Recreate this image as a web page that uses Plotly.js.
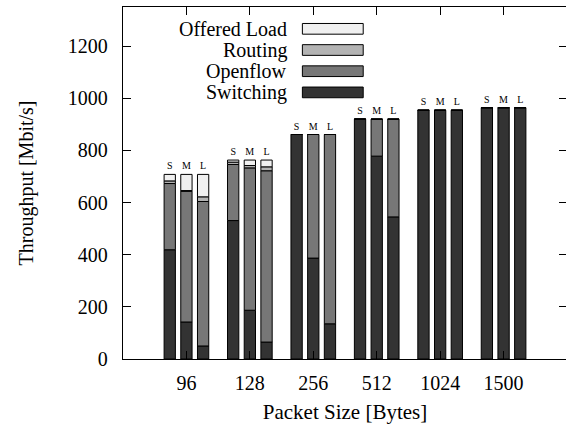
<!DOCTYPE html>
<html>
<head>
<meta charset="utf-8">
<script src="https://cdn.plot.ly/plotly-3.0.1.min.js"></script>
<style>
  html, body { margin: 0; padding: 0; overflow: hidden; background: #fff; }
  #chart { width: 572px; height: 428px; }
</style>
</head>
<body>
<div id="chart"></div>
<script>
// ---- data ----
const categories = ['96', '128', '256', '512', '1024', '1500'];
const sizes = ['S', 'M', 'L'];
const seriesNames = ['Switching', 'Openflow', 'Routing', 'Offered Load'];
const yTicks = [0, 200, 400, 600, 800, 1000, 1200];

// rows: S, M, L ; columns follow categories
const switching = [
  [419, 531, 861, 920, 954, 964],
  [142, 187, 387, 778, 954, 964],
  [50, 65, 135, 545, 954, 964]
];
const openflow = [
  [254, 215, 0, 0, 0, 0],
  [501, 546, 474, 142, 0, 0],
  [554, 657, 726, 375, 0, 0]
];
const routing = [
  [10, 9, 0, 0, 0, 0],
  [3, 9, 0, 0, 0, 0],
  [18, 15, 0, 0, 0, 0]
];
const offeredLoad = [
  [25, 8, 0, 0, 0, 0],
  [62, 21, 0, 0, 0, 0],
  [86, 26, 0, 0, 0, 0]
];

// ---- styles ----
const FONT = 'Liberation Serif';
const colors = ['#333333', '#777777', '#b3b3b3', '#f0f0f0'];
const barWidth = 0.178;
const groupStep = 0.263;

const segments = [switching, openflow, routing, offeredLoad];
const traces = [];

sizes.forEach((s, si) => {
  const center = (si - 1) * groupStep;
  const totals = categories.map((c, ci) => segments.reduce((a, seg) => a + seg[si][ci], 0));
  // label trace (invisible bar carrying S/M/L above the stack)
  traces.push({
    type: 'bar', x: categories, y: totals, base: 0,
    width: barWidth, offset: center - barWidth / 2,
    marker: { color: 'rgba(0,0,0,0)', line: { width: 0 } },
    text: categories.map(() => s), textposition: 'outside',
    textfont: { family: FONT, size: 10, color: '#000' },
    cliponaxis: false, hoverinfo: 'skip', showlegend: false
  });
  const cum = categories.map(() => 0);
  segments.forEach((seg, k) => {
    const vals = seg[si];
    traces.push({
      type: 'bar', name: seriesNames[k], x: categories, y: vals,
      base: cum.slice(),
      width: barWidth, offset: center - barWidth / 2,
      marker: { color: colors[k], line: { color: '#000', width: 1 } },
      hoverinfo: 'skip', showlegend: false
    });
    vals.forEach((v, ci) => cum[ci] += v);
  });
});

// custom legend: text right-aligned, swatch to the right
const annotations = [];
const shapes = [];
const legendOrder = [3, 2, 1, 0];
legendOrder.forEach((k, row) => {
  const yc = 0.938 - row * 0.0602;
  annotations.push({
    xref: 'paper', yref: 'paper', x: 0.373, y: yc,
    xanchor: 'right', yanchor: 'middle', showarrow: false,
    text: seriesNames[k], font: { family: FONT, size: 20, color: '#000' }
  });
  shapes.push({
    type: 'rect', xref: 'paper', yref: 'paper',
    x0: 0.404, x1: 0.541, y0: yc - 0.0152, y1: yc + 0.0152,
    fillcolor: colors[k], line: { color: '#000', width: 1 }
  });
});

const axisCommon = {
  showline: true, linecolor: '#000', linewidth: 1.3, mirror: 'ticks',
  ticks: 'inside', ticklen: 8, tickwidth: 1, tickcolor: '#000',
  showgrid: false, zeroline: false, fixedrange: true,
  tickfont: { family: FONT, size: 20, color: '#000' }
};

const layout = {
  width: 572, height: 428,
  margin: { l: 123, r: 5, t: 7, b: 69 },
  paper_bgcolor: '#fff', plot_bgcolor: '#fff',
  barmode: 'overlay', showlegend: false,
  font: { family: FONT, color: '#000' },
  xaxis: Object.assign({}, axisCommon, {
    type: 'category', range: [-1, 6], ticklabelstandoff: 6,
    title: { text: 'Packet Size [Bytes]', font: { family: FONT, size: 21, color: '#000' }, standoff: 11 }
  }),
  yaxis: Object.assign({}, axisCommon, {
    range: [0, 1350], tickvals: yTicks, ticktext: yTicks.map(String), ticklabelstandoff: 10,
    title: { text: 'Throughput [Mbit/s]', font: { family: FONT, size: 20, color: '#000' }, standoff: 28 }
  }),
  annotations: annotations,
  shapes: shapes
};

Plotly.newPlot('chart', traces, layout, { displayModeBar: false, staticPlot: true });
</script>
</body>
</html>
